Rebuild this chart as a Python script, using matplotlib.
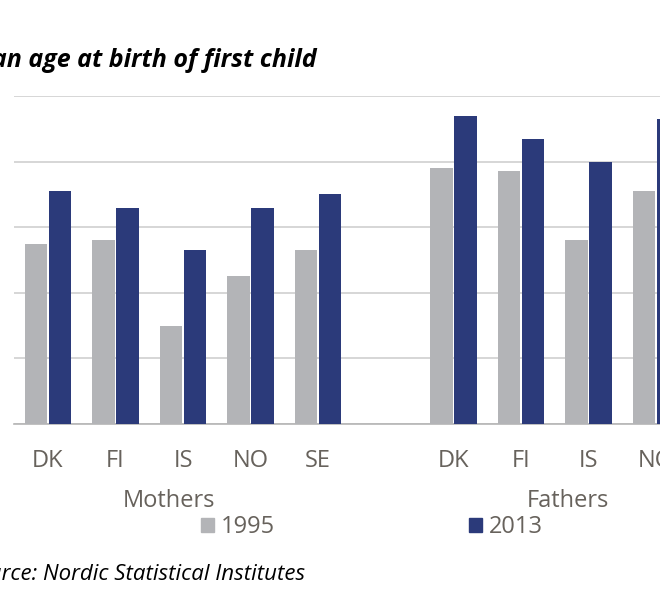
import matplotlib
matplotlib.use("Agg")
import matplotlib.pyplot as plt
from matplotlib.patches import Patch

# --- DATA (mean age) ---
countries = ['DK', 'FI', 'IS', 'NO', 'SE']
mothers_1995 = [27.5, 27.6, 25.0, 26.5, 27.3]
mothers_2013 = [29.1, 28.6, 27.3, 28.6, 29.0]
fathers_1995 = [29.8, 29.7, 27.6, 29.1, 29.6]
fathers_2013 = [31.4, 30.7, 30.0, 31.3, 31.0]
years = ['1995', '2013']
groups = ['Mothers', 'Fathers']

GREY = '#b3b4b7'
BLUE = '#2b3a7a'
TXT = '#67625c'
FONT = ['Open Sans', 'DejaVu Sans']

plt.rcParams['font.family'] = FONT

W, H = 660, 591
fig = plt.figure(figsize=(W / 100, H / 100), dpi=100)

# axes is wider than the figure: the source picture is a crop
slot = 67.6
ax = fig.add_axes([14 / W, (H - 424) / H, 11 * slot / W, 328 / H])

xpos = list(range(5)) + list(range(6, 11))
v1995 = mothers_1995 + fathers_1995
v2013 = mothers_2013 + fathers_2013
off, bw = 0.178, 0.33
ax.bar([x - off for x in xpos], v1995, width=bw, color=GREY, zorder=3)
ax.bar([x + off for x in xpos], v2013, width=bw, color=BLUE, zorder=3)

ax.set_xlim(-0.5, 10.5)
ax.set_ylim(22, 32)
ax.set_yticks(range(22, 33, 2))
ax.yaxis.grid(True, color='#d0d0d0', linewidth=1.2, zorder=0)
ax.tick_params(axis='y', left=False, labelleft=False)
for s in ['top', 'right', 'left']:
    ax.spines[s].set_visible(False)
ax.spines['bottom'].set_color('#b5b5b5')
ax.spines['bottom'].set_linewidth(1.2)

ax.set_xticks(xpos)
ax.set_xticklabels(countries + countries, fontsize=17, color=TXT)
ax.tick_params(axis='x', length=0, pad=18)

# group labels
fig.text(169 / W, 1 - 501 / H, groups[0], ha='center', va='center', fontsize=17, color=TXT)
fig.text(568 / W, 1 - 501 / H, groups[1], ha='center', va='center', fontsize=17, color=TXT)

# legend
handles = [Patch(color=GREY, label=years[0]), Patch(color=BLUE, label=years[1])]
fig.legend(handles=handles, loc='center', bbox_to_anchor=(372 / W, 1 - 527 / H), ncol=2,
           frameon=False, fontsize=17, labelcolor=TXT, handlelength=0.55, handleheight=0.55,
           handletextpad=0.3, columnspacing=8.2, borderpad=0)

# title and source, both cut at the left edge like the reference crop
fig.text(317 / W, 1 - 67 / H, 'Mean age at birth of first child', ha='right', va='baseline',
         fontsize=18, fontweight='bold', fontstyle='italic', color='black')
fig.text(305 / W, 1 - 580 / H, 'Source: Nordic Statistical Institutes', ha='right', va='baseline',
         fontsize=16, fontstyle='italic', color='black')

fig.savefig('out.png', dpi=100)
